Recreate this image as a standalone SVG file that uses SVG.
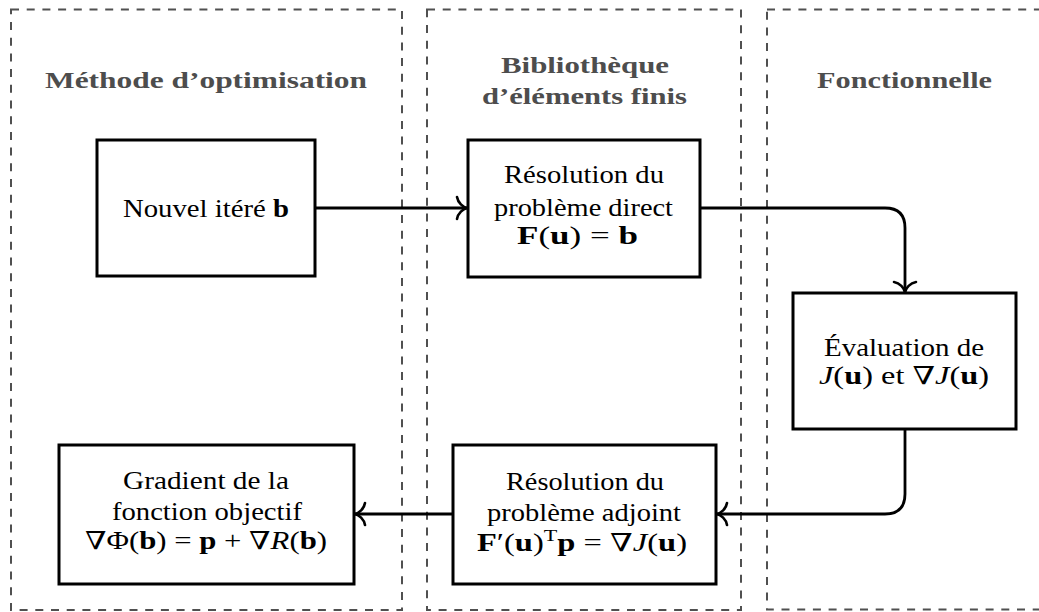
<svg xmlns="http://www.w3.org/2000/svg" width="1039" height="612" viewBox="0 0 1039 612">
<style>
.frame{fill:none;stroke:#505050;stroke-width:2;stroke-dasharray:8 7.7}
.box{fill:#fff;stroke:#000;stroke-width:3}
.hdr{font-family:"Liberation Serif","DejaVu Serif",serif;font-weight:bold;font-size:22.5px;fill:#4d4d4d}
.t{font-family:"Liberation Serif","DejaVu Serif",serif;font-size:25px;fill:#000}
.b{font-weight:bold}
.i{font-style:italic}
.conn{fill:none;stroke:#000;stroke-width:2.8}
</style>
<defs>
<marker id="to" markerUnits="userSpaceOnUse" viewBox="-12 -13 14 26" refX="0" refY="0" markerWidth="14" markerHeight="26" orient="auto" overflow="visible">
<path d="M -10,-11 C -9,-5 -4,-1 0,0 C -4,1 -9,5 -10,11" fill="none" stroke="#000" stroke-width="2.6" stroke-linecap="round"/>
</marker>
</defs>
<rect width="1039" height="612" fill="#fff"/>
<g id="frames">
<rect class="frame" x="11" y="9.5" width="391" height="600.5"/>
<rect class="frame" x="427" y="9.5" width="314" height="600.5"/>
<rect class="frame" x="767" y="9.5" width="300" height="600"/>
<text class="hdr" x="45" y="88" textLength="322" lengthAdjust="spacingAndGlyphs">Méthode d’optimisation</text>
<text class="hdr" x="501" y="73" textLength="168" lengthAdjust="spacingAndGlyphs">Bibliothèque</text>
<text class="hdr" x="482" y="104" textLength="205" lengthAdjust="spacingAndGlyphs">d’éléments finis</text>
<text class="hdr" x="817" y="88" textLength="175" lengthAdjust="spacingAndGlyphs">Fonctionnelle</text>
</g>
<g id="connectors">
<path class="conn" d="M 315,208 H 467" marker-end="url(#to)"/>
<path class="conn" d="M 700,208 H 885 Q 905,208 905,228 V 292" marker-end="url(#to)"/>
<path class="conn" d="M 905,429 V 494 Q 905,514 885,514 H 717" marker-end="url(#to)"/>
<path class="conn" d="M 453,514 H 355" marker-end="url(#to)"/>
</g>
<g id="node-iterate">
<rect class="box" x="97" y="140" width="218" height="136"/>
<text class="t" x="123" y="217" textLength="166" lengthAdjust="spacingAndGlyphs">Nouvel itéré <tspan class="b">b</tspan></text>
</g>
<g id="node-direct">
<rect class="box" x="468" y="140" width="232" height="137"/>
<text class="t" x="504" y="183" textLength="160" lengthAdjust="spacingAndGlyphs">Résolution du</text>
<text class="t" x="494" y="215.5" textLength="179" lengthAdjust="spacingAndGlyphs">problème direct</text>
<text class="t" x="517" y="244" textLength="121" lengthAdjust="spacingAndGlyphs"><tspan class="b">F</tspan>(<tspan class="b">u</tspan>) = <tspan class="b">b</tspan></text>
</g>
<g id="node-evaluation">
<rect class="box" x="793" y="293" width="223" height="136"/>
<text class="t" x="824" y="355.5" textLength="160" lengthAdjust="spacingAndGlyphs">Évaluation de</text>
<text class="t" x="819" y="384" textLength="170" lengthAdjust="spacingAndGlyphs"><tspan class="i">J</tspan>(<tspan class="b">u</tspan>) et ∇<tspan class="i">J</tspan>(<tspan class="b">u</tspan>)</text>
</g>
<g id="node-adjoint">
<rect class="box" x="453" y="445" width="263" height="139"/>
<text class="t" x="506" y="490" textLength="158" lengthAdjust="spacingAndGlyphs">Résolution du</text>
<text class="t" x="487" y="521" textLength="194" lengthAdjust="spacingAndGlyphs">problème adjoint</text>
<text class="t" x="477" y="551" textLength="210" lengthAdjust="spacingAndGlyphs"><tspan class="b">F</tspan>′(<tspan class="b">u</tspan>)<tspan dy="-10" font-size="17">T</tspan><tspan dy="10" class="b">p</tspan> = ∇<tspan class="i">J</tspan>(<tspan class="b">u</tspan>)</text>
</g>
<g id="node-gradient">
<rect class="box" x="59" y="445" width="295" height="139"/>
<text class="t" x="123" y="489" textLength="166" lengthAdjust="spacingAndGlyphs">Gradient de la</text>
<text class="t" x="112" y="520" textLength="190" lengthAdjust="spacingAndGlyphs">fonction objectif</text>
<text class="t" x="85" y="549" textLength="242" lengthAdjust="spacingAndGlyphs">∇Φ(<tspan class="b">b</tspan>) = <tspan class="b">p</tspan> + ∇<tspan class="i">R</tspan>(<tspan class="b">b</tspan>)</text>
</g>
</svg>
